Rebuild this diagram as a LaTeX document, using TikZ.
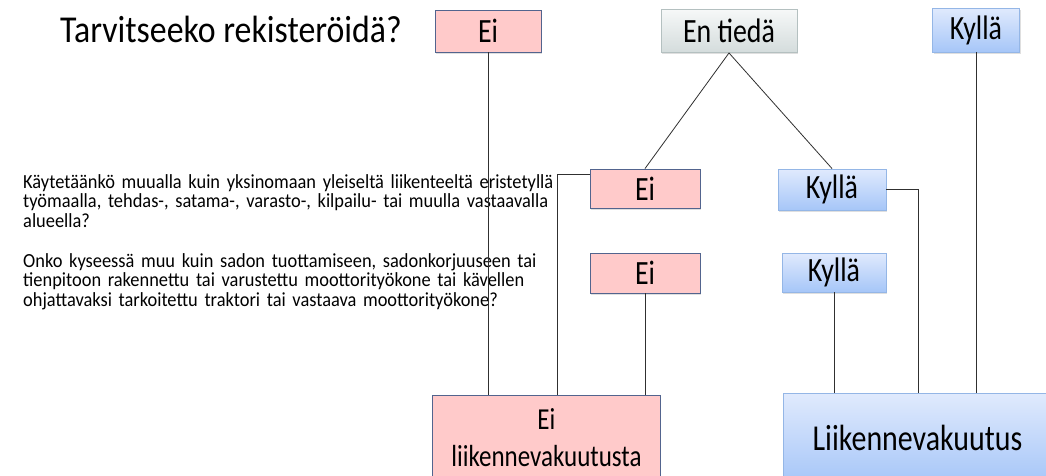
\documentclass[tikz,border=0pt]{standalone}
\usepackage{fontspec}
\setmainfont{Carlito}
\newfontfamily\titlefont[FakeStretch=0.89]{Carlito}
\newfontfamily\boxfont[FakeStretch=0.82]{Carlito}
\newfontfamily\qfont[FakeStretch=0.92]{Carlito}
\usetikzlibrary{shadows}

\definecolor{eifill}{HTML}{FFCACA}
\definecolor{eiline}{HTML}{52648E}
\definecolor{kyllatop}{HTML}{E0EAFD}
\definecolor{kyllabot}{HTML}{A6C6F8}
\definecolor{kyllaline}{HTML}{94B6E6}
\definecolor{entop}{HTML}{F6F8F8}
\definecolor{enbot}{HTML}{D4DCDC}
\definecolor{enline}{HTML}{B4C0C0}
\definecolor{johto}{HTML}{303030}

\begin{document}
\begin{tikzpicture}[x=1pt,y=-1pt,
  box/.style={inner sep=0pt, line width=0.9pt,
    drop shadow={opacity=0.25,shadow xshift=1pt,shadow yshift=-1.5pt}},
  eibox/.style={box, draw=eiline, fill=eifill},
  kyllabox/.style={box, draw=kyllaline, top color=kyllatop, bottom color=kyllabot},
  enbox/.style={box, draw=enline, top color=entop, bottom color=enbot},
  big/.style={font=\boxfont\fontsize{34}{38}\selectfont},
  question/.style={anchor=north west, align=left, text width=600pt, inner sep=0pt,
    font=\qfont\fontsize{20}{19.6}\selectfont},
  johdin/.style={draw=johto, line width=0.8pt}]

\useasboundingbox (0,0) rectangle (1046,475);
\fill[white] (0,0) rectangle (1046,475);

% otsikko ja kysymykset
\node[anchor=base, inner sep=0pt] (title) at (231,42) {\titlefont\fontsize{38}{44}\selectfont Tarvitseeko rekisteröidä?};
\node[question] (q1) at (23,174) {Käytetäänkö muualla kuin yksinomaan yleiseltä liikenteeltä eristetyllä\\
  työmaalla, tehdas-, satama-, varasto-, kilpailu- tai muulla vastaavalla\\ alueella?};
\node[question] (q2) at (23,253) {Onko kyseessä muu kuin sadon tuottamiseen, sadonkorjuuseen tai\\
  tienpitoon rakennettu tai varustettu moottorityökone tai kävellen\\
  ohjattavaksi tarkoitettu traktori tai vastaava moottorityökone?};

% ylärivi
\node[eibox, big, minimum width=106pt, minimum height=42pt] (eiTop) at (488,31) {Ei};
\node[enbox, big, minimum width=136pt, minimum height=43pt] (enTieda) at (729,31) {En tiedä};
\node[kyllabox, big, minimum width=87pt, minimum height=44pt] (kyllaTop) at (976,30) {Kyllä};

% kysymysrivit
\node[eibox, big, minimum width=110pt, minimum height=39pt] (ei1) at (645,188.5) {Ei};
\node[kyllabox, big, minimum width=108pt, minimum height=41pt] (kylla1) at (832,189.5) {Kyllä};
\node[eibox, big, minimum width=110pt, minimum height=40pt] (ei2) at (645,273) {Ei};
\node[kyllabox, big, minimum width=104pt, minimum height=39pt] (kylla2) at (834,272.5) {Kyllä};

% tulokset
\node[eibox, anchor=north west, align=center, minimum width=228pt, minimum height=84pt,
  font=\boxfont\fontsize{30.5}{37}\selectfont] (eiVak) at (432,395) {Ei\\ liikennevakuutusta};
\node[kyllabox, anchor=north west, minimum width=268pt, minimum height=90pt,
  text width=260pt, align=center, font=\boxfont\fontsize{36.5}{40}\selectfont]
  (vak) at (783,393) {Liikennevakuutus};

% yhteydet
\draw[johdin] (eiTop.south) -- (eiTop.south |- eiVak.north);
\draw[johdin] (enTieda.south) -- (ei1.north);
\draw[johdin] (enTieda.south) -- (kylla1.north);
\draw[johdin] ([yshift=-6pt]ei1.north west) -| ([xshift=125pt]eiVak.north west);
\draw[johdin] (ei2.south) -- (ei2.south |- eiVak.north);
\draw[johdin] (kylla1.east) -| ([xshift=135pt]vak.north west);
\draw[johdin] (kylla2.south) -- (kylla2.south |- vak.north);
\draw[johdin] (kyllaTop.south) -- (kyllaTop.south |- vak.north);

\end{tikzpicture}
\end{document}
